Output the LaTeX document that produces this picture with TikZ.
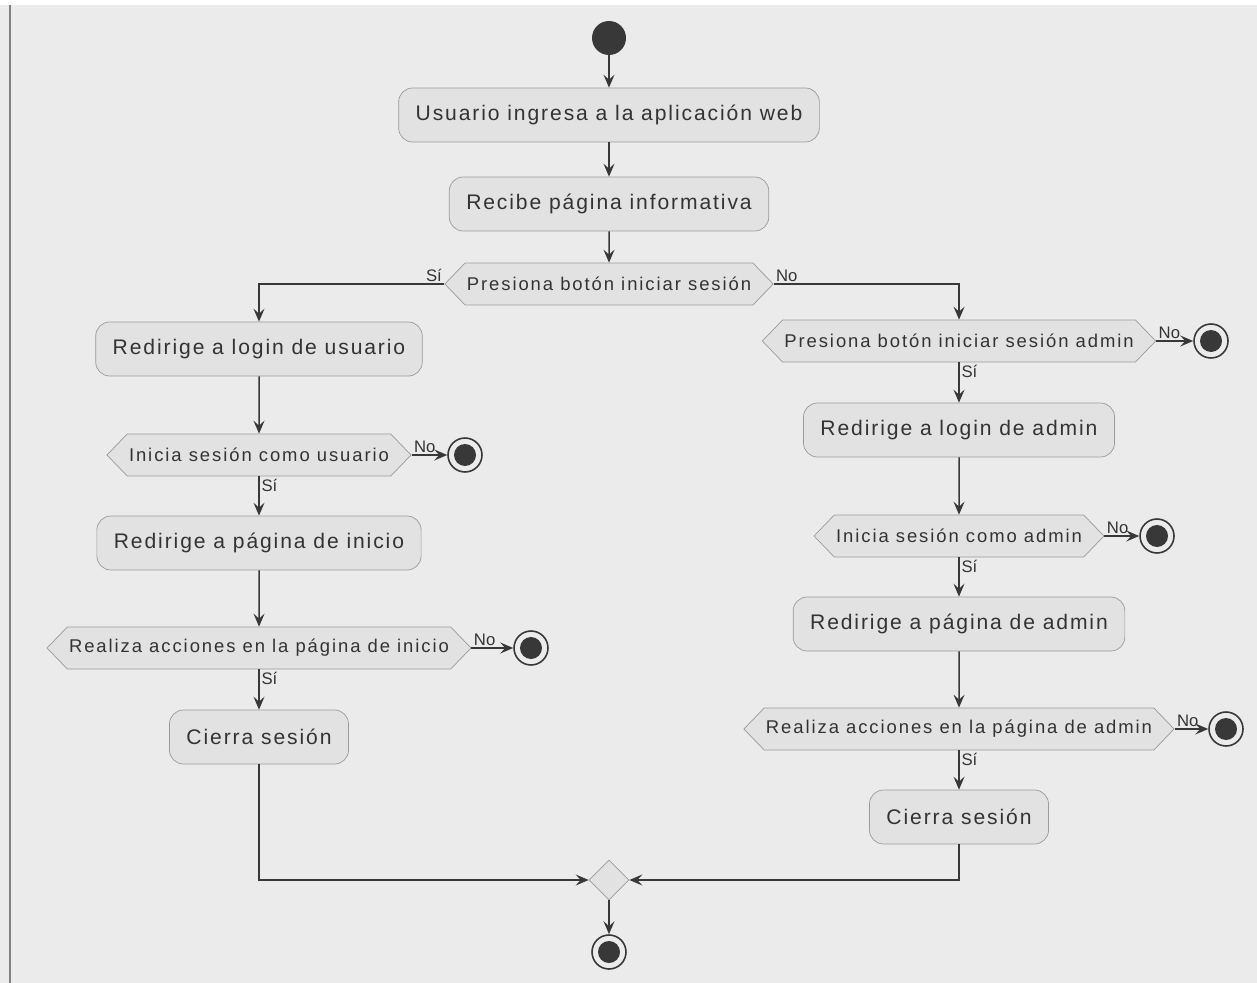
\documentclass[tikz,border=0pt]{standalone}
\usepackage{fontspec}
\setmainfont{Liberation Sans}
\newfontfamily\actfont{Liberation Sans}[LetterSpace=9]
\newfontfamily\condfont{Liberation Sans}[LetterSpace=10.5]
\usetikzlibrary{arrows.meta,shapes.symbols,shapes.geometric}

\definecolor{bgcol}{HTML}{EBEBEB}
\definecolor{boxfill}{HTML}{E2E2E2}
\definecolor{boxline}{HTML}{9A9A9A}
\definecolor{linecol}{HTML}{383838}
\definecolor{txtcol}{HTML}{333333}

\begin{document}
\begin{tikzpicture}[x=0.02cm,y=-0.02cm,
    act/.style={draw=boxline, fill=boxfill, rounded corners=0.28cm, minimum height=1.08cm, inner xsep=0.34cm, font=\actfont\fontsize{12}{14}\selectfont, text=txtcol},
    cond/.style={draw=boxline, fill=boxfill, shape=signal, signal to=west and east, signal pointer angle=92, minimum height=0.84cm, inner xsep=1pt, font=\condfont\fontsize{10.5}{12}\selectfont, text=txtcol},
    startnode/.style={circle, fill=linecol, minimum size=0.68cm, inner sep=0pt},
    stopnode/.style={circle, draw=linecol, line width=0.9pt, fill=bgcol, minimum size=0.68cm, inner sep=0pt,
      path picture={\fill[linecol] (path picture bounding box.center) circle (0.22cm);}},
    merge/.style={diamond, draw=boxline, fill=boxfill, minimum size=0.8cm, inner sep=0pt},
    arr/.style={-{Stealth[length=2.6mm,width=2.2mm,inset=1mm]}, draw=linecol, line width=0.85pt},
    lbl/.style={font=\fontsize{9.5}{11}\selectfont, text=txtcol, inner sep=1pt}
  ]
  % background
  \useasboundingbox (0,0) rectangle (1257,983);
  \fill[bgcol] (0,0) rectangle (1257,983);
  \fill[white] (0,0) rectangle (1257,5);
  \draw[gray, line width=0.8pt] (10,5) -- (10,983);

  % common trunk
  \node[startnode] (start) at (609,38) {};
  \node[act] (ingresa) at (609,115) {Usuario ingresa a la aplicación web};
  \node[act] (recibe) at (609,204) {Recibe página informativa};
  \node[cond] (presiona) at (609,284) {Presiona botón iniciar sesión};

  % user branch
  \node[act] (logusr) at (259,349) {Redirige a login de usuario};
  \node[cond] (iniusr) at (259,455) {Inicia sesión como usuario};
  \node[stopnode] (stopusr) at (465,455) {};
  \node[act] (inicio) at (259,543) {Redirige a página de inicio};
  \node[cond] (accusr) at (259,648) {Realiza acciones en la página de inicio};
  \node[stopnode] (stopacc) at (531,648) {};
  \node[act] (cierrausr) at (259,737) {Cierra sesión};

  % admin branch
  \node[cond] (presadm) at (959,341) {Presiona botón iniciar sesión admin};
  \node[stopnode] (stoppres) at (1211,341) {};
  \node[act] (logadm) at (959,430) {Redirige a login de admin};
  \node[cond] (iniadm) at (959,536) {Inicia sesión como admin};
  \node[stopnode] (stopadm) at (1157,536) {};
  \node[act] (admin) at (959,624) {Redirige a página de admin};
  \node[cond] (accadm) at (959,729) {Realiza acciones en la página de admin};
  \node[stopnode] (stopaccadm) at (1226,729) {};
  \node[act] (cierraadm) at (959,817) {Cierra sesión};

  % end
  \node[merge] (join) at (609,880) {};
  \node[stopnode] (fin) at (609,952) {};

  \draw[arr] (start) -- (ingresa);
  \draw[arr] (ingresa) -- (recibe);
  \draw[arr] (recibe) -- (presiona);
  \draw[arr] (presiona.west) -| node[pos=0, lbl, anchor=south east]{Sí} (logusr);
  \draw[arr] (presiona.east) -| node[pos=0, lbl, anchor=south west]{No} (presadm);

  \draw[arr] (logusr) -- (iniusr);
  \draw[arr] (iniusr.east) -- node[pos=0, lbl, anchor=south west]{No} (stopusr);
  \draw[arr] (iniusr.south) -- node[pos=0, lbl, anchor=north west]{Sí} (inicio);
  \draw[arr] (inicio) -- (accusr);
  \draw[arr] (accusr.east) -- node[pos=0, lbl, anchor=south west]{No} (stopacc);
  \draw[arr] (accusr.south) -- node[pos=0, lbl, anchor=north west]{Sí} (cierrausr);
  \draw[arr] (cierrausr) |- (join);

  \draw[arr] (presadm.east) -- node[pos=0, lbl, anchor=south west]{No} (stoppres);
  \draw[arr] (presadm.south) -- node[pos=0, lbl, anchor=north west]{Sí} (logadm);
  \draw[arr] (logadm) -- (iniadm);
  \draw[arr] (iniadm.east) -- node[pos=0, lbl, anchor=south west]{No} (stopadm);
  \draw[arr] (iniadm.south) -- node[pos=0, lbl, anchor=north west]{Sí} (admin);
  \draw[arr] (admin) -- (accadm);
  \draw[arr] (accadm.east) -- node[pos=0, lbl, anchor=south west]{No} (stopaccadm);
  \draw[arr] (accadm.south) -- node[pos=0, lbl, anchor=north west]{Sí} (cierraadm);
  \draw[arr] (cierraadm) |- (join);

  \draw[arr] (join) -- (fin);
\end{tikzpicture}
\end{document}
